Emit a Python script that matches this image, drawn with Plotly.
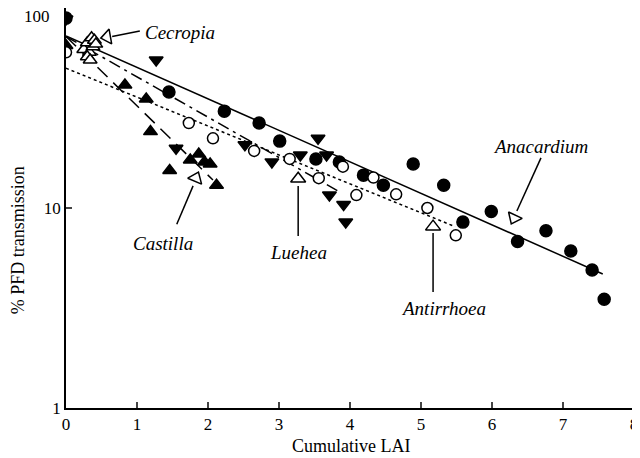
import math
import plotly.graph_objects as go

# ---- data (Cumulative LAI, % PFD transmission) ----
anac_x = [0, 1.45, 2.23, 2.72, 3.01, 3.52, 3.85, 4.19, 4.47, 4.89, 5.32, 5.59, 5.99, 6.36, 6.76, 7.11, 7.41, 7.58]
anac_y = [89, 38, 30.5, 26.6, 21.6, 17.6, 17.0, 14.6, 13.0, 16.6, 13.0, 8.5, 9.6, 6.8, 7.7, 6.1, 4.9, 3.5]
anac_line_x = [0, 7.56]
anac_line_y = [72.5, 4.68]

antir_x = [0, 1.73, 2.07, 2.65, 3.15, 3.56, 3.90, 4.09, 4.33, 4.65, 5.09, 5.49]
antir_y = [60, 26.6, 22.3, 19.3, 17.6, 14.1, 16.1, 11.6, 14.2, 11.7, 10.0, 7.3]
antir_line_x = [0, 5.48]
antir_line_y = [50, 8.07]

cast_x = [0, 0.83, 1.13, 1.19, 1.46, 1.75, 1.87, 1.95, 2.03, 2.12]
cast_y = [65, 41.2, 35.1, 24.1, 15.4, 17.4, 18.6, 17.0, 16.6, 13.0]
cast_line_x = [0, 2.07]
cast_line_y = [72, 13.8]

lueh_x = [0, 1.27, 1.55, 2.52, 2.90, 3.30, 3.55, 3.67, 3.71, 3.91, 3.94]
lueh_y = [88, 55, 19.9, 20.7, 17.0, 18.4, 22.3, 18.4, 11.6, 10.4, 8.5]
lueh_line_x = [0, 3.86]
lueh_line_y = [72, 12.0]

cecr_x = [0.25, 0.30, 0.33, 0.36, 0.38, 0.40, 0.30, 0.42, 0.34]
cecr_y = [62, 67, 60, 71, 64, 69, 57, 66, 55]

# y tick labels
y_tickvals = [1, 10, 100]
y_ticktext = ["1", "10", "100"]

# annotations: label, text pos, arrow tail, arrow line end, open-triangle head
ann_label = ["Cecropia", "Castilla", "Luehea", "Antirrhoea", "Anacardium"]
ann_tx = [1.08, 1.37, 3.27, 5.32, 6.69]
ann_ty = [75, 6.68, 5.96, 3.16, 20.2]
ann_anchor = ["left", "center", "center", "center", "center"]
ann_tailx = [1.04, 1.56, 3.27, 5.17, 6.69]
ann_taily = [76.7, 8.3, 7.24, 3.8, 17.8]
ann_endx = [0.65, 1.79, 3.27, 5.17, 6.35]
ann_endy = [72, 12.9, 12.9, 7.5, 9.66]
ann_hx = [0.58, 1.83, 3.27, 5.17, 6.31]
ann_hy = [71.6, 14.1, 14.0, 8.07, 8.9]
ann_sym = ["triangle-left-open", "triangle-up-open", "triangle-up-open", "triangle-up-open", "triangle-down-open"]
ann_ang = [-10, 23, 0, 0, 25]

x_title = "Cumulative LAI"
y_title = "% PFD transmission"

FONT = "Liberation Serif, Times New Roman, serif"
fig = go.Figure()

def line(x, y, dash, width=1.5):
    fig.add_trace(go.Scatter(x=x, y=y, mode="lines",
                             line=dict(color="black", width=width, dash=dash),
                             showlegend=False, hoverinfo="skip"))

line(anac_line_x, anac_line_y, "solid")
line(antir_line_x, antir_line_y, "dot")
line(cast_line_x, cast_line_y, "14px,8px")
line(lueh_line_x, lueh_line_y, "12px,5px,3px,5px")

def pts(x, y, sym, size, fill="black"):
    fig.add_trace(go.Scatter(x=x, y=y, mode="markers",
                             marker=dict(symbol=sym, size=size, color=fill,
                                         line=dict(color="black", width=1.5)),
                             showlegend=False))

pts(lueh_x, lueh_y, "triangle-down", 12)
pts(cast_x, cast_y, "triangle-up", 12)
pts(anac_x, anac_y, "circle", 12)
pts(antir_x, antir_y, "circle", 11, fill="white")
pts(cecr_x, cecr_y, "triangle-up", 12, fill="white")

for i, lab in enumerate(ann_label):
    line([ann_tailx[i], ann_endx[i]], [ann_taily[i], ann_endy[i]], "solid")
    fig.add_trace(go.Scatter(x=[ann_hx[i]], y=[ann_hy[i]], mode="markers",
                             marker=dict(symbol=ann_sym[i], size=13, angle=ann_ang[i],
                                         color="black", line=dict(color="black", width=1.5)),
                             showlegend=False, hoverinfo="skip"))
    fig.add_annotation(x=ann_tx[i], y=math.log10(ann_ty[i]), text="<i>%s</i>" % lab,
                       showarrow=False, xanchor=ann_anchor[i], yanchor="middle",
                       font=dict(family=FONT, size=19, color="black"))

# axis titles placed as paper annotations
fig.add_annotation(xref="paper", yref="paper", x=0.502, y=-0.095, text=x_title,
                   showarrow=False, xanchor="center", yanchor="middle",
                   font=dict(family=FONT, size=18, color="black"))
fig.add_annotation(xref="paper", yref="paper", x=-0.084, y=0.42, text=y_title,
                   showarrow=False, xanchor="center", yanchor="middle", textangle=-90,
                   font=dict(family=FONT, size=18, color="black"))
# top tick label ("100") drawn as text nudged inside the page so it is not clipped
fig.add_annotation(xref="paper", yref="paper", x=-14 / 568, y=1 - 9 / 400, text=y_ticktext[-1],
                   showarrow=False, xanchor="right", yanchor="middle",
                   font=dict(family=FONT, size=17, color="black"))

# page body has an 8px margin: figure is sized/offset to compensate
fig.update_layout(
    width=632, height=450,
    margin=dict(l=58, r=6, t=0, b=50),
    paper_bgcolor="white", plot_bgcolor="white",
    font=dict(family=FONT, size=17, color="black"),
)
fig.update_xaxes(range=[0, 8], dtick=1, ticks="inside", ticklen=6, tickwidth=1.5,
                 showline=True, linecolor="black", linewidth=1.5, mirror=True,
                 showgrid=False, zeroline=False, automargin=False,
                 ticklabeloverflow="allow")
fig.update_yaxes(type="log", range=[0, 2], tickvals=y_tickvals,
                 ticktext=y_ticktext[:-1] + [""],
                 ticks="inside", ticklen=6, tickwidth=1.5,
                 showline=True, linecolor="black", linewidth=1.5, mirror=True,
                 showgrid=False, zeroline=False, automargin=False,
                 ticklabeloverflow="allow")

fig.write_html("out.html")
